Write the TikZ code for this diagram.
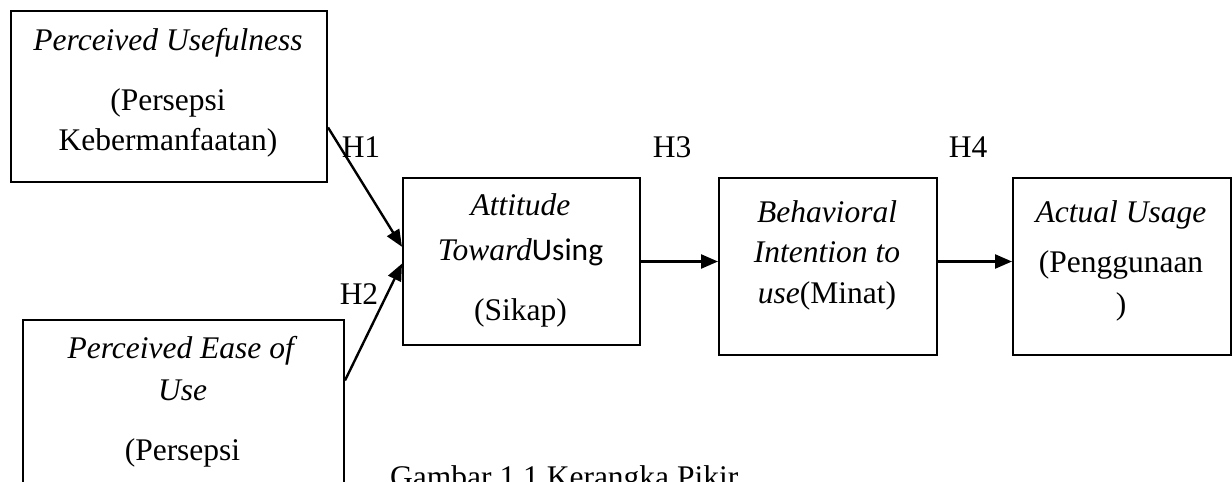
\documentclass[tikz,border=0pt]{standalone}
\usepackage{fontspec}
\setmainfont{Liberation Serif}
\newfontfamily\calibri{Carlito}
\usetikzlibrary{arrows.meta}
\begin{document}
\begin{tikzpicture}[x=1pt,y=-1pt,
  box/.style={draw, line width=2pt, rectangle, inner sep=0pt, anchor=north west},
  txt/.style={anchor=base, inner sep=0pt, font=\fontsize{31.5}{40}\selectfont},
  conn/.style={line width=2.4pt, -{Triangle[length=17pt,width=14pt]}},
  ]
\useasboundingbox (0,0) rectangle (1232,482);
\clip (0,0) rectangle (1232,482);
% boxes
\node[box, minimum width=316pt, minimum height=171pt] (pu) at (10,10) {};
\node[box, minimum width=321pt, minimum height=300pt] (peou) at (22,319) {};
\node[box, minimum width=237pt, minimum height=167pt] (att) at (402,177) {};
\node[box, minimum width=218pt, minimum height=177pt] (beh) at (718,177) {};
\node[box, minimum width=218pt, minimum height=177pt] (act) at (1012,177) {};
% texts
\node[txt] (pu1) at (168,50) {\textit{Perceived Usefulness}};
\node[txt] (pu2) at (168,110) {(Persepsi};
\node[txt] (pu3) at (168,150) {Kebermanfaatan)};
\node[txt] (pe1) at (182.5,358) {\textit{Perceived Ease of}};
\node[txt] (pe2) at (182.5,400) {\textit{Use}};
\node[txt] (pe3) at (182.5,460) {(Persepsi};
\node[txt] (at1) at (520.5,215) {\textit{Attitude}};
\node[txt] (at2) at (520.5,260) {\textit{Toward}{\calibri Using}};
\node[txt] (at3) at (520.5,320) {(Sikap)};
\node[txt] (be1) at (827,222) {\textit{Behavioral}};
\node[txt] (be2) at (827,262) {\textit{Intention to}};
\node[txt] (be3) at (827,303) {\textit{use}(Minat)};
\node[txt] (ac1) at (1121,222) {\textit{Actual Usage}};
\node[txt] (ac2) at (1121,272) {(Penggunaan};
\node[txt] (ac3) at (1121,314) {)};
% labels
\node[txt] (h1) at (361,157) {H1};
\node[txt] (h2) at (359,304) {H2};
\node[txt] (h3) at (672,157) {H3};
\node[txt] (h4) at (968,157) {H4};
\node[txt, anchor=base west] (cap) at (390,487) {Gambar 1.1 Kerangka Pikir};
% connectors
\draw[conn] (pu.-11.6) -- (att.173.5);
\draw[conn] (peou.29) -- (att.181.7);
\draw[conn] (att.east) -- (att.east -| beh.west);
\draw[conn] (beh.east |- att.east) -- (act.west |- att.east);
\end{tikzpicture}
\end{document}
